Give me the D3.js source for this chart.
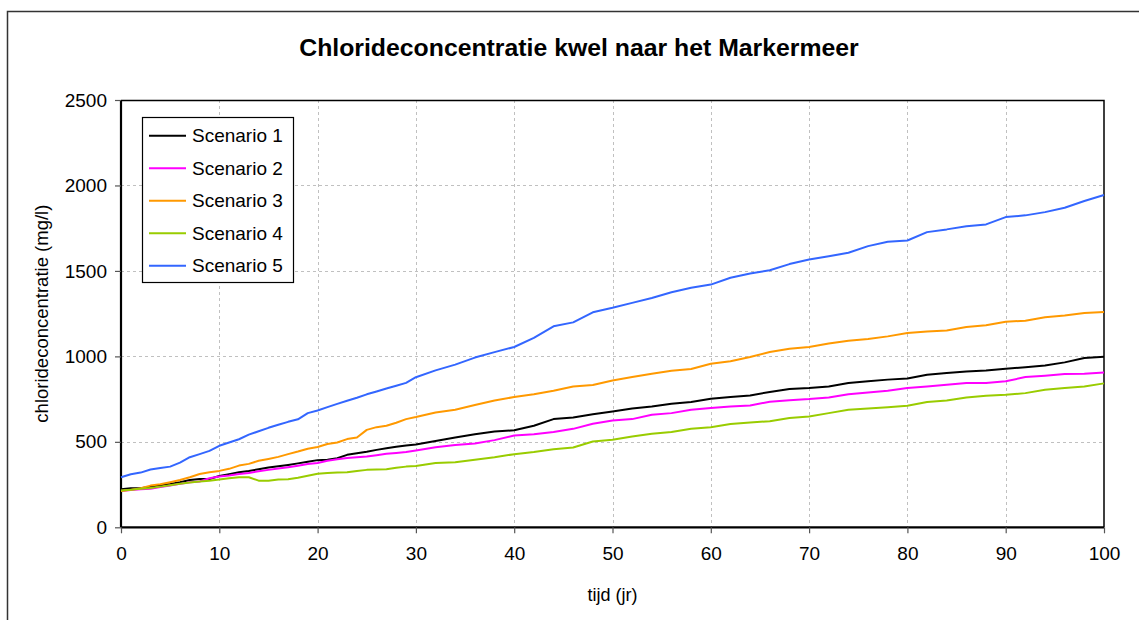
<!DOCTYPE html>
<html>
<head>
<meta charset="utf-8">
<script src="https://cdn.jsdelivr.net/npm/d3@7"></script>
<style>
    body { margin: 0; background: #fff; }
    svg { display: block; font-family: "Liberation Sans", Arial, sans-serif; }
</style>
</head>
<body>
<div id="chart"></div>
<script>
// tijd in jaren (jaarlijks tot 30, daarna per 2 jaar)
const years = [0,1,2,3,4,5,6,7,8,9,10,11,12,13,14,15,16,17,18,19,20,
    21,22,23,24,25,26,27,28,29,30,
    32,34,36,38,40,42,44,46,48,50,52,54,56,58,60,62,64,66,68,70,
    72,74,76,78,80,82,84,86,88,90,92,94,96,98,100];

const scenario1 = [222,229,229,238,246,254,264,277,283,283,300,311,322,330,340,350,357,365,374,384,393,
    395,404,424,433,442,453,462,471,478,485,
    505,525,545,560,568,594,633,643,662,678,695,707,723,733,752,763,771,792,809,815,
    824,844,854,864,871,893,903,912,918,928,936,946,965,991,998];

const scenario2 = [213,218,223,225,235,244,254,264,268,287,297,303,312,318,328,336,344,352,360,370,376,
    389,398,406,410,414,422,430,435,440,449,
    468,482,490,510,537,545,557,576,606,625,633,658,668,688,698,707,713,735,744,750,
    760,779,789,799,815,824,834,844,844,854,879,887,897,899,906];

const scenario3 = [212,219,229,244,252,264,277,293,312,322,330,342,361,371,389,400,412,428,443,460,470,
    487,496,516,525,570,586,594,612,633,645,
    672,688,715,742,762,779,799,824,832,859,879,899,916,926,957,971,996,1026,1045,1055,
    1075,1092,1102,1117,1137,1145,1152,1172,1182,1202,1209,1229,1239,1254,1260];

const scenario4 = [215,220,225,230,238,246,255,262,268,273,279,287,293,293,273,273,280,281,290,302,313,
    318,320,322,330,336,338,340,348,355,358,
    376,381,395,410,428,440,457,467,502,512,531,547,557,576,586,604,613,621,639,648,
    668,688,695,703,711,733,742,760,770,775,785,805,815,824,842];

const scenario5 = [293,310,320,338,347,355,378,410,428,447,477,496,515,542,562,582,600,617,632,668,683,
    703,722,740,758,778,795,812,828,845,878,
    918,952,993,1025,1055,1108,1176,1199,1258,1284,1313,1342,1375,1401,1420,1460,1485,1504,1540,1567,
    1586,1606,1645,1671,1678,1727,1743,1762,1772,1815,1825,1844,1870,1909,1944];

const seriesNames = ["Scenario 1", "Scenario 2", "Scenario 3", "Scenario 4", "Scenario 5"];
const seriesColors = ["#000000", "#ff00ff", "#ff9900", "#99cc00", "#3366ff"];
const xTicks = [0, 10, 20, 30, 40, 50, 60, 70, 80, 90, 100];
const yTicks = [0, 500, 1000, 1500, 2000, 2500];

const title = "Chlorideconcentratie kwel naar het Markermeer";
const xTitle = "tijd (jr)";
const yTitle = "chlorideconcentratie (mg/l)";

const width = 1139, height = 620;
const margin = {top: 100, right: 35, bottom: 92.7, left: 121};
const plotW = width - margin.left - margin.right;
const plotH = height - margin.top - margin.bottom;

const svg = d3.select("#chart").append("svg")
    .attr("width", width)
    .attr("height", height);

// outer chart frame (right and bottom fall outside the picture)
svg.append("path")
    .attr("d", "M7.5,625 L7.5,11.5 L1145,11.5")
    .attr("fill", "none")
    .attr("stroke", "#333")
    .attr("stroke-width", 1.5);

svg.append("text")
    .attr("x", 579)
    .attr("y", 56)
    .attr("text-anchor", "middle")
    .attr("font-size", 24.8)
    .attr("font-weight", "bold")
    .text(title);

const x = d3.scaleLinear().domain([0, 100]).range([0, plotW]);
const y = d3.scaleLinear().domain([0, 2500]).range([plotH, 0]);

const g = svg.append("g")
    .attr("transform", `translate(${margin.left}, ${margin.top})`);

// gridlines
g.append("g").selectAll("line.hgrid")
    .data(yTicks.filter(d => d > 0 && d < 2500))
    .enter().append("line")
    .attr("x1", 0).attr("x2", plotW)
    .attr("y1", d => Math.round(y(d)) + 0.5).attr("y2", d => Math.round(y(d)) + 0.5)
    .attr("stroke", "#c0c0c0")
    .attr("stroke-dasharray", "3,3");

g.append("g").selectAll("line.vgrid")
    .data(xTicks.filter(d => d > 0 && d < 100))
    .enter().append("line")
    .attr("y1", 0).attr("y2", plotH)
    .attr("x1", d => Math.round(x(d)) + 0.5).attr("x2", d => Math.round(x(d)) + 0.5)
    .attr("stroke", "#c0c0c0")
    .attr("stroke-dasharray", "3,3");

// top and right border of plot area
g.append("path")
    .attr("d", `M0,0.5 H${plotW} V${plotH}`)
    .attr("fill", "none")
    .attr("stroke", "#000")
    .attr("stroke-width", 1.5);

// axes
const yAxis = d3.axisLeft(y).tickValues(yTicks).tickSize(6).tickPadding(8).tickFormat(d3.format("d"));
const xAxis = d3.axisBottom(x).tickValues(xTicks).tickSize(6).tickPadding(13).tickFormat(d3.format("d"));

const yg = g.append("g").call(yAxis);
const xg = g.append("g").attr("transform", `translate(0, ${plotH})`).call(xAxis);

[yg, xg].forEach(a => {
    a.select(".domain").attr("stroke", "#000").attr("stroke-width", 2.2);
    a.selectAll(".tick line").attr("stroke", "#555").attr("stroke-width", 1.2);
    a.selectAll(".tick text")
        .attr("font-size", 19)
        .attr("fill", "#000")
        .attr("font-family", "Liberation Sans, Arial, sans-serif");
});
// remove outer tick ends of domain
yg.select(".domain").attr("d", `M0,0 V${plotH}`);
xg.select(".domain").attr("d", `M0,0 H${plotW}`);

// axis titles
svg.append("text")
    .attr("x", margin.left + plotW / 2)
    .attr("y", 601)
    .attr("text-anchor", "middle")
    .attr("font-size", 18)
    .text(xTitle);

svg.append("text")
    .attr("transform", `translate(48, ${margin.top + plotH / 2}) rotate(-90)`)
    .attr("text-anchor", "middle")
    .attr("font-size", 18.5)
    .text(yTitle);

// lines
const allSeries = [scenario1, scenario2, scenario3, scenario4, scenario5];
const line = d3.line()
    .x((d, i) => x(years[i]))
    .y(d => y(d));

g.selectAll("path.series")
    .data(allSeries)
    .enter().append("path")
    .attr("class", "series")
    .attr("d", line)
    .attr("fill", "none")
    .attr("stroke", (d, i) => seriesColors[i])
    .attr("stroke-width", 2)
    .attr("stroke-linejoin", "round");

// legend
const legend = svg.append("g").attr("transform", "translate(142, 117)");
legend.append("rect")
    .attr("x", 0.5).attr("y", 0.5)
    .attr("width", 151).attr("height", 165)
    .attr("fill", "#fff")
    .attr("stroke", "#000")
    .attr("stroke-width", 1.2);

const items = legend.selectAll("g.item")
    .data(seriesNames)
    .enter().append("g")
    .attr("transform", (d, i) => `translate(0, ${18.7 + i * 32.5})`);

items.append("line")
    .attr("x1", 7).attr("x2", 44)
    .attr("y1", 0).attr("y2", 0)
    .attr("stroke", (d, i) => seriesColors[i])
    .attr("stroke-width", 2);

items.append("text")
    .attr("x", 50)
    .attr("y", 0)
    .attr("dy", "0.35em")
    .attr("font-size", 19)
    .text(d => d);
</script>
</body>
</html>
